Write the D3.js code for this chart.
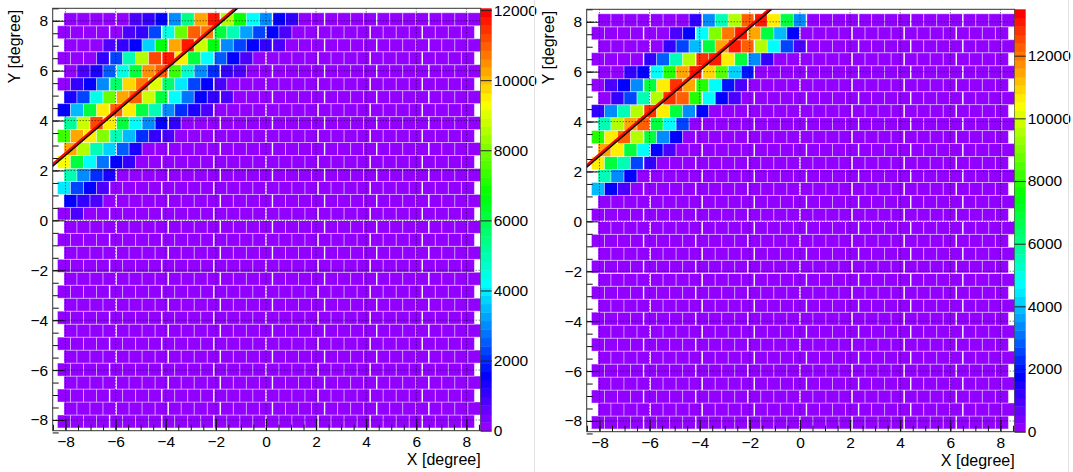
<!DOCTYPE html>
<html>
<head>
<meta charset="utf-8">
<script src="https://cdn.jsdelivr.net/npm/d3@7"></script>
<style>
  body { margin: 0; background: #fff; }
  svg { display: block; }
  text { font-family: "Liberation Sans", Arial, Helvetica, sans-serif; }
</style>
</head>
<body>
<svg id="chart" width="1073" height="472"></svg>
<script>
const WIDTH = 1073;
const HEIGHT = 472;

// geometry of the crystal grid (degrees)
const CELL = 0.52;
const N_ROWS = 32;
const N_COLS = 32;
const MODULE = 4; // crystals per module
const BACKGROUND_COUNT = 110;

const axisTicks = [-8, -6, -4, -2, 0, 2, 4, 6, 8];
const axisMinor = d3.range(-8.5, 8.51, 0.5);

const leftZMax = 12050;
const rightZMax = 13480;
const leftZTicks = [0, 2000, 4000, 6000, 8000, 10000, 12000];
const rightZTicks = [0, 2000, 4000, 6000, 8000, 10000, 12000];

// visible horizontal gaps between module rows (degrees)
const leftRowGaps = [0];
const rightRowGaps = [0, -2.08];

// counts per crystal, rows listed from the top row down, cells from the left;
// every crystal not listed sits in the lowest colour band
const leftRows = [
  [110, 110, 110, 110, 110, 840, 1090, 1570, 3010, 5500, 10250, 11800, 8560, 6800, 4220, 3010, 1570, 1090],
  [110, 110, 110, 110, 110, 840, 1090, 2290, 4460, 7780, 10970, 10730, 6150, 4940, 3250, 2290, 1570, 840],
  [110, 110, 110, 840, 1090, 1570, 3740, 6630, 10250, 11700, 8800, 6630, 3130, 2290, 1570, 1090, 840],
  [110, 110, 110, 1090, 2290, 4940, 8560, 11210, 11580, 9530, 6150, 4220, 2530, 1570, 900],
  [110, 840, 1330, 2530, 4460, 6150, 10400, 10900, 7450, 4700, 3130, 1950, 1090, 840],
  [110, 1090, 1570, 3130, 5740, 9700, 10730, 9020, 5740, 3860, 2290, 1570, 840],
  [1330, 2290, 4460, 7840, 10250, 10970, 8800, 6150, 4220, 2800, 1570, 1090, 840],
  [1570, 3500, 6150, 9530, 10970, 9530, 6150, 4940, 3130, 2000, 1330, 840],
  [5200, 8800, 11200, 9530, 6150, 4220, 2900, 1570, 1090],
  [7450, 10250, 9530, 8000, 4940, 3500, 1950, 1090, 840],
  [10250, 8560, 4940, 3740, 2530, 1330],
  [9300, 6150, 4220, 2750, 1570, 1090],
  [4940, 3130, 2100, 1330],
  [3860, 2400, 1570, 840],
  [1570, 1090, 840],
  [110, 840],
];

const rightRows = [
  [110, 110, 110, 110, 110, 110, 110, 1210, 3370, 5530, 9570, 12270, 13080, 10650, 6870, 3370],
  [110, 110, 110, 110, 110, 110, 940, 1750, 4720, 9030, 11990, 13080, 11460, 6870, 3910, 1750],
  [110, 110, 110, 110, 110, 1210, 2560, 3910, 6870, 11460, 13080, 12270, 9570, 4720, 2560, 940],
  [110, 110, 110, 110, 1210, 2960, 5530, 9570, 12800, 13080, 10650, 6870, 3370, 1210],
  [110, 110, 1210, 1750, 4720, 7950, 11460, 13080, 11000, 8500, 4200, 2000],
  [110, 1000, 1750, 3370, 6870, 10650, 12800, 11460, 7950, 4720, 2000, 940],
  [110, 1210, 2560, 5530, 9570, 12800, 12270, 7950, 4720, 1750, 940],
  [1210, 3370, 5530, 9570, 12800, 10650, 6870, 3370, 1750],
  [5530, 9570, 11460, 12270, 6870, 4720, 2560],
  [7950, 10650, 12270, 9570, 6870, 3370, 1750],
  [11460, 10650, 6870, 4720, 1750, 940],
  [10650, 6870, 5530, 2560, 1210],
  [5530, 3370, 1750],
  [3910, 1750, 940],
];

// the straight line drawn over both maps (degrees)
const lineX = [-8.6, -1.0];
const lineY = [2.15, 8.67];

const panels = [
  { dx: 0, dy: 0, zMax: leftZMax, zTicks: leftZTicks, rows: leftRows, rowGaps: leftRowGaps },
  { dx: 534, dy: 1, zMax: rightZMax, zTicks: rightZTicks, rows: rightRows, rowGaps: rightRowGaps },
];

const FRAME = { left: 52.7, right: 480.7, top: 8.3, bottom: 430.7 };
const PALETTE_W = 11;
const N_COLORS = 50;
const FONT = '"Liberation Sans", Arial, Helvetica, sans-serif';

// ROOT "pretty" palette: 50 HLS colours from violet to red
function paletteColor(i) {
  const hue = 280 - (i + 1) * (280 / N_COLORS);
  return d3.hsl(hue, 1, 0.5).formatHex();
}

const svg = d3.select("#chart");
svg.append("rect").attr("width", WIDTH).attr("height", HEIGHT).attr("fill", "#fff");

function drawPanel(p, idx) {
  const g = svg.append("g").attr("transform", `translate(${p.dx},${p.dy})`);

  const x = d3.scaleLinear().domain([-8.51, 8.57]).range([FRAME.left, FRAME.right]);
  const y = d3.scaleLinear().domain([-8.43, 8.5]).range([FRAME.bottom, FRAME.top]);
  const z = d3.scaleLinear().domain([0, p.zMax]).range([FRAME.bottom, FRAME.top]);

  const clipId = `frame-clip-${idx}`;
  g.append("clipPath").attr("id", clipId)
    .append("rect")
    .attr("x", FRAME.left).attr("y", FRAME.top)
    .attr("width", FRAME.right - FRAME.left).attr("height", FRAME.bottom - FRAME.top);

  const cells = [];
  const moduleEdges = [];
  for (let r = 0; r < N_ROWS; r++) {
    const fromTop = N_ROWS - 1 - r;
    const xStart = r % 2 === 1 ? -8.32 + CELL / 2 : -8.32;
    const y0 = -8.32 + r * CELL;
    const rowVals = p.rows[fromTop] || [];
    for (let c = 0; c < N_COLS; c++) {
      const v = c < rowVals.length ? rowVals[c] : BACKGROUND_COUNT;
      cells.push({ x0: xStart + c * CELL, y0, v });
    }
    for (let m = 1; m < N_COLS / MODULE; m++) {
      moduleEdges.push({ x: xStart + m * MODULE * CELL, y0 });
    }
  }

  const colorIndex = (v) => Math.max(0, Math.min(N_COLORS - 1, Math.floor(0.01 + v * N_COLORS / p.zMax)));

  const plot = g.append("g").attr("clip-path", `url(#${clipId})`);

  plot.append("g")
    .selectAll("rect")
    .data(cells)
    .join("rect")
    .attr("x", (d) => x(d.x0))
    .attr("y", (d) => y(d.y0 + CELL))
    .attr("width", (d) => x(d.x0 + CELL) - x(d.x0))
    .attr("height", (d) => y(d.y0) - y(d.y0 + CELL))
    .attr("fill", (d) => paletteColor(colorIndex(d.v)))
    .attr("stroke", "#ffffff")
    .attr("stroke-opacity", 0.4)
    .attr("stroke-width", 1);

  // gaps between crystal modules
  plot.append("g")
    .attr("stroke", "#fff")
    .attr("stroke-width", 1.4)
    .attr("stroke-opacity", 0.9)
    .selectAll("line")
    .data(moduleEdges)
    .join("line")
    .attr("x1", (d) => x(d.x)).attr("x2", (d) => x(d.x))
    .attr("y1", (d) => y(d.y0)).attr("y2", (d) => y(d.y0 + CELL));
  plot.append("g")
    .attr("stroke", "#fff")
    .attr("stroke-width", 1.2)
    .attr("stroke-opacity", 0.85)
    .selectAll("line")
    .data(p.rowGaps)
    .join("line")
    .attr("x1", FRAME.left).attr("x2", FRAME.right)
    .attr("y1", (d) => y(d)).attr("y2", (d) => y(d));

  // dotted grid
  const grid = plot.append("g")
    .attr("stroke", "#000")
    .attr("stroke-opacity", 0.75)
    .attr("stroke-width", 1)
    .attr("stroke-dasharray", "1,2");
  grid.selectAll("line.gx").data(axisTicks).join("line")
    .attr("x1", (d) => x(d)).attr("x2", (d) => x(d))
    .attr("y1", FRAME.top).attr("y2", FRAME.bottom);
  grid.selectAll("line.gy").data(axisTicks).join("line")
    .attr("y1", (d) => y(d)).attr("y2", (d) => y(d))
    .attr("x1", FRAME.left).attr("x2", FRAME.right);

  // line, black under red
  const linePts = lineX.map((lx, i) => [x(lx), y(lineY[i])]);
  plot.append("line")
    .attr("x1", linePts[0][0]).attr("y1", linePts[0][1] + 1.1)
    .attr("x2", linePts[1][0]).attr("y2", linePts[1][1] + 1.1)
    .attr("stroke", "#000").attr("stroke-width", 2);
  plot.append("line")
    .attr("x1", linePts[0][0]).attr("y1", linePts[0][1] - 0.9)
    .attr("x2", linePts[1][0]).attr("y2", linePts[1][1] - 0.9)
    .attr("stroke", "#ff0000").attr("stroke-width", 2);

  // axes: ROOT style ticks pointing into the frame
  g.append("g").attr("transform", `translate(0,${FRAME.bottom})`)
    .call(d3.axisBottom(x).tickValues(axisTicks).tickSize(-12).tickPadding(5.5));
  g.append("g").attr("transform", `translate(0,${FRAME.bottom})`)
    .call(d3.axisBottom(x).tickValues(axisMinor).tickSize(-6).tickFormat(""));
  g.append("g").attr("transform", `translate(${FRAME.left},0)`)
    .call(d3.axisLeft(y).tickValues(axisTicks).tickSize(-12).tickPadding(4.5));
  g.append("g").attr("transform", `translate(${FRAME.left},0)`)
    .call(d3.axisLeft(y).tickValues(axisMinor).tickSize(-6).tickFormat(""));

  g.selectAll(".domain").remove();
  g.selectAll(".tick line").attr("stroke", "#111");
  g.selectAll(".tick text").attr("font-size", "15.5px").attr("fill", "#000").attr("font-family", FONT);

  // frame
  g.append("rect")
    .attr("x", FRAME.left).attr("y", FRAME.top)
    .attr("width", FRAME.right - FRAME.left).attr("height", FRAME.bottom - FRAME.top)
    .attr("fill", "none").attr("stroke", "#333").attr("stroke-width", 1);

  // palette
  g.append("g").selectAll("rect")
    .data(d3.range(N_COLORS))
    .join("rect")
    .attr("x", FRAME.right)
    .attr("width", PALETTE_W)
    .attr("y", (i) => z((i + 1) * p.zMax / N_COLORS))
    .attr("height", (i) => z(i * p.zMax / N_COLORS) - z((i + 1) * p.zMax / N_COLORS) + 0.4)
    .attr("fill", (i) => paletteColor(i));

  g.append("g").attr("transform", `translate(${FRAME.right + PALETTE_W},0)`)
    .call(d3.axisRight(z).tickValues(p.zTicks).tickSize(-PALETTE_W).tickPadding(2).tickFormat(d3.format("d")))
    .call((a) => a.select(".domain").remove())
    .call((a) => a.selectAll(".tick line").attr("stroke", "#222"))
    .call((a) => a.selectAll(".tick text").attr("font-size", "15.5px").attr("fill", "#000").attr("font-family", FONT));

  // axis titles
  g.append("text")
    .attr("x", FRAME.right).attr("y", 465)
    .attr("text-anchor", "end")
    .attr("font-size", "16px")
    .text("X [degree]");
  g.append("text")
    .attr("transform", `translate(20,${FRAME.top + 1.5}) rotate(-90)`)
    .attr("text-anchor", "end")
    .attr("font-size", "16px")
    .text("Y [degree]");
}

panels.forEach(drawPanel);

// thin canvas borders between the two pictures
svg.append("line").attr("x1", 534.5).attr("x2", 534.5).attr("y1", 0).attr("y2", HEIGHT)
  .attr("stroke", "#e2e2e2").attr("stroke-width", 1);
svg.append("line").attr("x1", 1068.5).attr("x2", 1068.5).attr("y1", 0).attr("y2", HEIGHT)
  .attr("stroke", "#e2e2e2").attr("stroke-width", 1);
</script>
</body>
</html>
